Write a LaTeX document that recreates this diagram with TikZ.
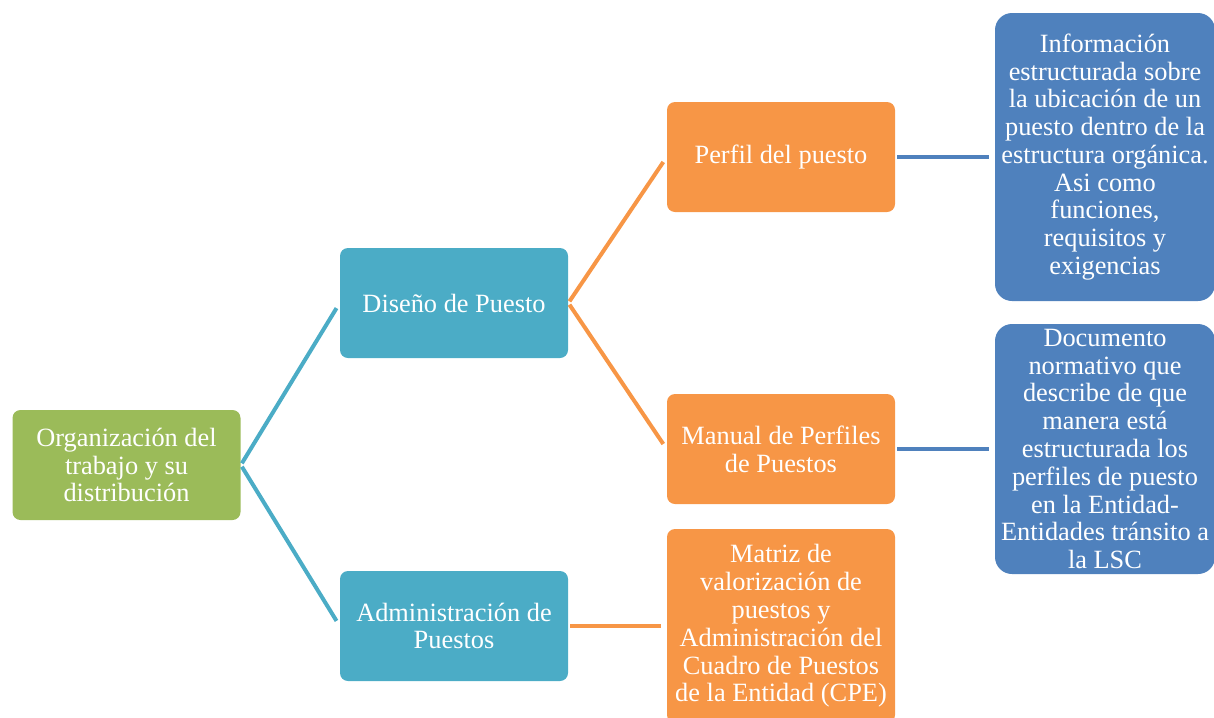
\documentclass[tikz,border=0pt]{standalone}
\usepackage{fontspec}
\setmainfont{Liberation Serif}
\definecolor{verde}{HTML}{9BBB59}
\definecolor{turquesa}{HTML}{4BACC6}
\definecolor{naranja}{HTML}{F79646}
\definecolor{azul}{HTML}{4F81BD}
\tikzset{
	caja/.style={rounded corners=0.16cm, text=white, align=center, inner sep=0pt,
		minimum width=4.56cm, minimum height=2.2cm,
		font=\fontsize{15}{15.8}\selectfont},
	rama/.style={line width=0.08cm, shorten <=0.04cm, shorten >=0.12cm}
}
\begin{document}
\begin{tikzpicture}
		
		\useasboundingbox (0,0) rectangle (24.28,-14.34);
		
		\node[caja, fill=verde] (org) at (2.53,-9.3) {Organización del\\trabajo y su\\distribución};
		\node[caja, fill=turquesa] (dis) at (9.08,-6.06) {Diseño de Puesto};
		\node[caja, fill=turquesa] (adm) at (9.08,-12.52) {Administración de\\Puestos};
		
		\node[caja, fill=naranja] (per) at (15.62,-3.14) {Perfil del puesto};
		\node[caja, fill=naranja] (man) at (15.62,-8.98) {Manual de Perfiles\\de Puestos};
		\node[caja, fill=naranja, minimum height=3.88cm] (mat) at (15.62,-12.52) {Matriz de\\valorización de\\puestos y\\Administración del\\Cuadro de Puestos\\de la Entidad (CPE)};
		
		\node[caja, fill=azul, rounded corners=0.34cm, minimum width=4.4cm, minimum height=5.76cm] (inf) at (22.1,-3.14) {Información\\estructurada sobre\\la ubicación de un\\puesto dentro de la\\estructura orgánica.\\Asi como\\funciones,\\requisitos y\\exigencias};
		\node[caja, fill=azul, rounded corners=0.34cm, minimum width=4.4cm, minimum height=5cm] (doc) at (22.1,-8.98) {Documento\\normativo que\\describe de que\\manera está\\estructurada los\\perfiles de puesto\\en la Entidad-\\Entidades tránsito a\\la LSC};
		
		\draw[rama, turquesa] (org.east) -- (dis.west);
		\draw[rama, turquesa] (org.east) -- (adm.west);
		\draw[rama, naranja] (dis.east) -- (per.west);
		\draw[rama, naranja] (dis.east) -- (man.west);
		\draw[rama, naranja] (adm.east) -- (mat.west);
		\draw[rama, azul] (per.east) -- (inf.west);
		\draw[rama, azul] (man.east) -- (doc.west);
		
	\end{tikzpicture}
\end{document}
